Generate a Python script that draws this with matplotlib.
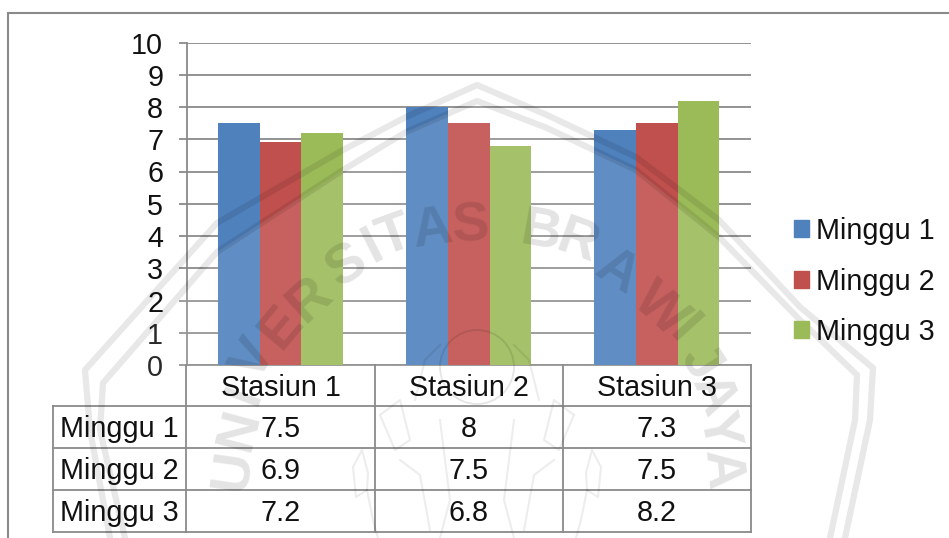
import matplotlib
matplotlib.use("Agg")
import matplotlib.pyplot as plt
from matplotlib.patches import Polygon, Circle, Patch
import numpy as np

plt.rcParams['font.family'] = ['Liberation Sans', 'DejaVu Sans']

stations = ['Stasiun 1', 'Stasiun 2', 'Stasiun 3']
series_names = ['Minggu 1', 'Minggu 2', 'Minggu 3']
minggu1 = [7.5, 8, 7.3]
minggu2 = [6.9, 7.5, 7.5]
minggu3 = [7.2, 6.8, 8.2]
colors = ['#4F81BD', '#C0504D', '#9BBB59']
yticks = list(range(0, 11))

W, H = 949, 538
GREY = '#8A8A8A'
FS = 20.7
fig = plt.figure(figsize=(W / 100, H / 100), dpi=100, facecolor='white')

# chart area, box given in pixels from the top left
left, right, top, bottom = 186.5, 751, 42.5, 365
ax = fig.add_axes([left / W, 1 - bottom / H, (right - left) / W, (bottom - top) / H])
x = np.arange(3) + 0.5
bw = 0.2215
for i, vals in enumerate([minggu1, minggu2, minggu3]):
    ax.bar(x + (i - 1) * bw, vals, bw, color=colors[i], zorder=3)
ax.set_xlim(0, 3)
ax.set_ylim(0, 10)
ax.set_yticks(yticks)
ax.set_xticks([])
ax.grid(axis='y', color=GREY, lw=1.3, zorder=1)
ax.tick_params(axis='y', length=5.8, width=1.3, color=GREY, labelsize=FS, pad=11, labelcolor='#111111')
for s in ['top', 'right']:
    ax.spines[s].set_visible(False)
for s in ['left', 'bottom']:
    ax.spines[s].set_color(GREY)
    ax.spines[s].set_linewidth(1.3)

handles = [Patch(color=c, label=n) for c, n in zip(colors, series_names)]
leg = fig.legend(handles=handles, loc='center left', bbox_to_anchor=(794 / W, 1 - 281.5 / H),
                 frameon=False, fontsize=FS, handlelength=0.53, handleheight=0.53,
                 handletextpad=0.25, labelspacing=0.78, borderpad=0, borderaxespad=0)
for t in leg.get_texts():
    t.set_color('#111111')

# overlay in pixel coordinates for the outer border, data table and watermark
ov = fig.add_axes([0, 0, 1, 1], facecolor='none', zorder=5)
ov.set_xlim(0, W)
ov.set_ylim(H, 0)
ov.axis('off')

ov.plot([8, 8, W], [H, 13, 13], color=GREY, lw=1.5, solid_joinstyle='miter')

# data table
col_x = [186.5, 374.7, 563, 751]
row_y = [365, 406, 447.7, 489.7, 531.7]
table_left = 53
for y in row_y[1:]:
    ov.plot([table_left, col_x[-1]], [y, y], color=GREY, lw=1.3)
ov.plot([table_left, table_left], [row_y[1], row_y[-1]], color=GREY, lw=1.3)
for cx in col_x:
    ov.plot([cx, cx], [row_y[0], row_y[-1]], color=GREY, lw=1.3)
for j, name in enumerate(stations):
    ov.text((col_x[j] + col_x[j + 1]) / 2, (row_y[0] + row_y[1]) / 2 + 2, name, fontsize=FS,
            ha='center', va='center', color='#111111')
for i, (name, vals) in enumerate(zip(series_names, [minggu1, minggu2, minggu3])):
    cy = (row_y[i + 1] + row_y[i + 2]) / 2 + 2
    ov.text(60, cy, name, fontsize=FS, ha='left', va='center', color='#111111')
    for j, v in enumerate(vals):
        ov.text((col_x[j] + col_x[j + 1]) / 2, cy, f'{v:g}', fontsize=FS,
                ha='center', va='center', color='#111111')

# faint university watermark
outer = [(110, 538), (90, 430), (85, 370), (217, 223), (343, 150), (406, 117), (477, 85), (547, 115),
         (636, 157), (719, 220), (800, 307), (873, 368), (870, 420), (845, 538)]
inner = [(125, 538), (100, 430), (103, 383), (217, 252), (343, 170), (406, 132), (477, 101), (547, 128),
         (636, 170), (719, 237), (800, 320), (857, 375), (855, 420), (830, 538)]
ov.add_patch(Polygon(inner, closed=True, fc='white', ec='none', alpha=0.1))
for path in (outer, inner):
    ov.plot(*zip(*path), color='black', alpha=0.09, lw=4.5, solid_joinstyle='round')

letters = list('UNIVERSITAS') + list('BRAWIJAYA')
letter_x = [233, 240, 245, 255, 281, 310, 347, 373, 395, 433, 470, 540, 577, 617, 660, 683, 700, 712, 717, 720]
letter_y = [470, 430, 395, 360, 328, 300, 267, 247, 237, 230, 227, 233, 243, 273, 310, 330, 362, 395, 430, 470]
letter_rot = [82, 75, 70, 60, 50, 42, 33, 27, 20, 8, 2, -10, -20, -32, -42, -48, -58, -68, -78, -85]
for ch, lx, ly, rot in zip(letters, letter_x, letter_y, letter_rot):
    ov.text(lx, ly, ch, fontsize=40, fontweight='bold', rotation=rot, rotation_mode='anchor',
            ha='center', va='center', color='black', alpha=0.11)

# rough outline of the crest, mirrored about its centre line
crest = [
    [(353, 467), (362, 450), (368, 473), (367, 490), (356, 497), (353, 467)],
    [(367, 490), (373, 520), (378, 538)],
    [(380, 415), (400, 400), (410, 440), (395, 450), (380, 415)],
    [(415, 400), (425, 360), (440, 345)],
    [(400, 460), (420, 475), (430, 530)],
    [(440, 420), (450, 500), (440, 538)],
]
CX = 477
for pl in crest:
    px, py = zip(*pl)
    ov.plot(px, py, color='black', alpha=0.07, lw=1.5)
    ov.plot([2 * CX - p for p in px], py, color='black', alpha=0.07, lw=1.5)
ov.add_patch(Circle((CX, 367), 37, fc='none', ec='black', alpha=0.1, lw=1.3))

fig.savefig('out.png', dpi=100)
